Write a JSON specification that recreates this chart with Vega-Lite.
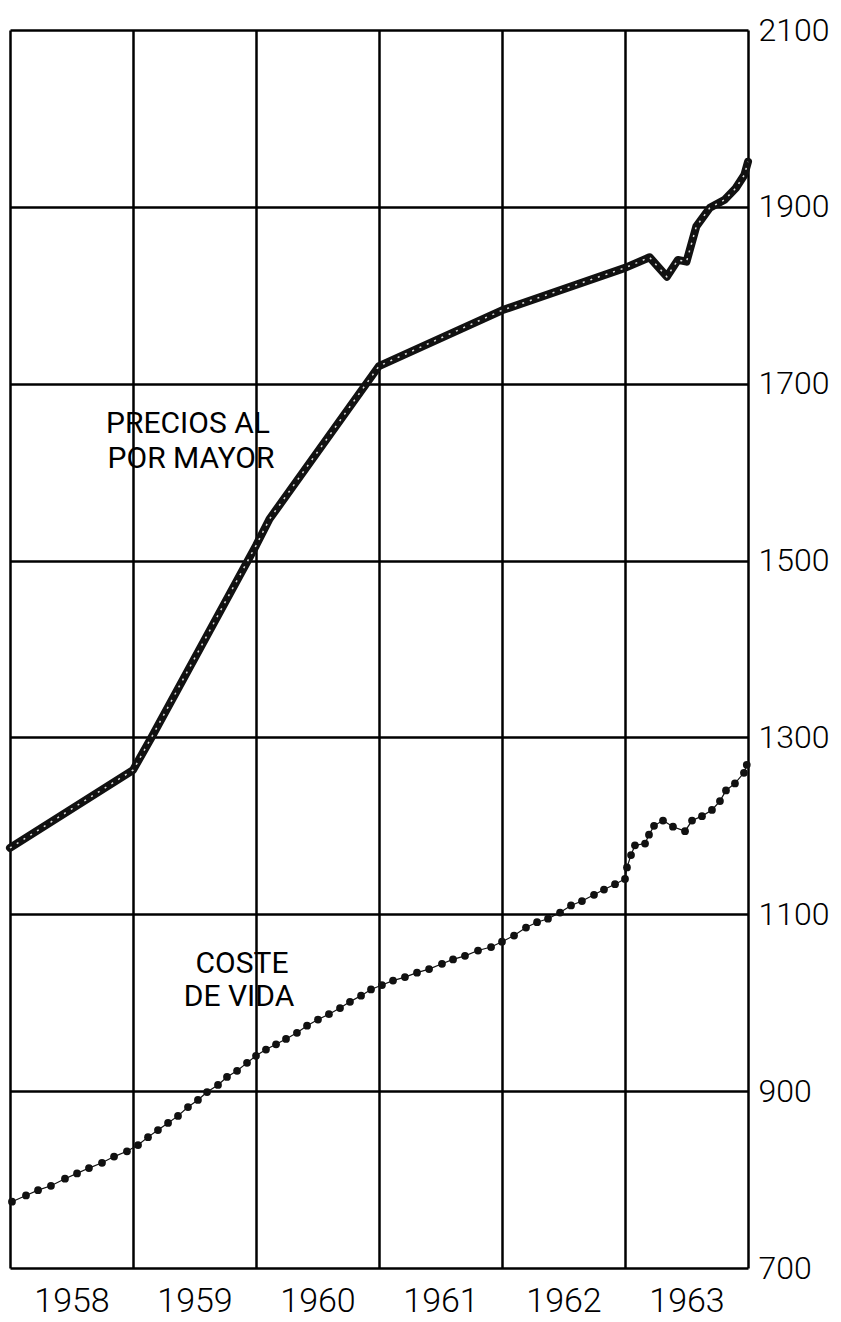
{
  "$schema": "https://vega.github.io/schema/vega-lite/v6.json",
  "width": 738,
  "height": 1238,
  "autosize": {"type": "none"},
  "padding": {"left": 10, "top": 30, "right": 93, "bottom": 54},
  "background": "white",
  "config": {
    "view": {"stroke": null},
    "font": "Roboto"
  },
  "datasets": {
    "wholesale": [
      {"t": 1958.0, "v": 1175},
      {"t": 1959.0, "v": 1263},
      {"t": 1959.15, "v": 1300},
      {"t": 1960.0, "v": 1517},
      {"t": 1960.11, "v": 1547},
      {"t": 1961.0, "v": 1720},
      {"t": 1962.0, "v": 1783},
      {"t": 1963.0, "v": 1831},
      {"t": 1963.2, "v": 1843},
      {"t": 1963.34, "v": 1821},
      {"t": 1963.43, "v": 1840},
      {"t": 1963.5, "v": 1838},
      {"t": 1963.58, "v": 1878},
      {"t": 1963.69, "v": 1899},
      {"t": 1963.81, "v": 1908},
      {"t": 1963.9, "v": 1921},
      {"t": 1963.97, "v": 1936},
      {"t": 1964.0, "v": 1951}
    ],
    "coste": [
      {"t": 1958.016, "v": 775},
      {"t": 1958.13, "v": 782},
      {"t": 1958.228, "v": 788},
      {"t": 1958.333, "v": 793},
      {"t": 1958.447, "v": 801},
      {"t": 1958.545, "v": 807},
      {"t": 1958.642, "v": 813},
      {"t": 1958.748, "v": 819},
      {"t": 1958.846, "v": 826},
      {"t": 1958.951, "v": 832},
      {"t": 1959.041, "v": 839},
      {"t": 1959.122, "v": 848},
      {"t": 1959.203, "v": 856},
      {"t": 1959.285, "v": 864},
      {"t": 1959.366, "v": 872},
      {"t": 1959.447, "v": 882},
      {"t": 1959.528, "v": 890},
      {"t": 1959.602, "v": 899},
      {"t": 1959.691, "v": 907},
      {"t": 1959.764, "v": 916},
      {"t": 1959.846, "v": 923},
      {"t": 1959.927, "v": 932},
      {"t": 1960.0, "v": 940},
      {"t": 1960.081, "v": 947},
      {"t": 1960.163, "v": 953},
      {"t": 1960.244, "v": 959},
      {"t": 1960.333, "v": 966},
      {"t": 1960.415, "v": 974},
      {"t": 1960.504, "v": 981},
      {"t": 1960.593, "v": 987},
      {"t": 1960.683, "v": 994},
      {"t": 1960.764, "v": 1001},
      {"t": 1960.854, "v": 1008},
      {"t": 1960.935, "v": 1015},
      {"t": 1961.024, "v": 1020},
      {"t": 1961.114, "v": 1025},
      {"t": 1961.211, "v": 1029},
      {"t": 1961.309, "v": 1034},
      {"t": 1961.407, "v": 1038},
      {"t": 1961.512, "v": 1044},
      {"t": 1961.602, "v": 1049},
      {"t": 1961.699, "v": 1053},
      {"t": 1961.805, "v": 1059},
      {"t": 1961.911, "v": 1063},
      {"t": 1962.0, "v": 1069},
      {"t": 1962.098, "v": 1076},
      {"t": 1962.195, "v": 1085},
      {"t": 1962.285, "v": 1091},
      {"t": 1962.374, "v": 1095},
      {"t": 1962.472, "v": 1102},
      {"t": 1962.561, "v": 1110},
      {"t": 1962.65, "v": 1115},
      {"t": 1962.748, "v": 1122},
      {"t": 1962.829, "v": 1128},
      {"t": 1962.919, "v": 1134},
      {"t": 1963.0, "v": 1140},
      {"t": 1963.016, "v": 1153},
      {"t": 1963.049, "v": 1167},
      {"t": 1963.081, "v": 1178},
      {"t": 1963.163, "v": 1180},
      {"t": 1963.195, "v": 1190},
      {"t": 1963.236, "v": 1200},
      {"t": 1963.309, "v": 1206},
      {"t": 1963.39, "v": 1199},
      {"t": 1963.488, "v": 1194},
      {"t": 1963.545, "v": 1206},
      {"t": 1963.626, "v": 1211},
      {"t": 1963.707, "v": 1218},
      {"t": 1963.772, "v": 1228},
      {"t": 1963.821, "v": 1240},
      {"t": 1963.894, "v": 1248},
      {"t": 1963.967, "v": 1260},
      {"t": 1963.99, "v": 1269}
    ],
    "labels": [
      {"t": 1959.447, "v": 1655, "text": "PRECIOS AL"},
      {"t": 1959.472, "v": 1615, "text": "POR MAYOR"},
      {"t": 1959.886, "v": 1044, "text": "COSTE"},
      {"t": 1959.862, "v": 1006, "text": "DE VIDA"}
    ]
  },
  "encoding": {
    "x": {
      "field": "t",
      "type": "quantitative",
      "scale": {"domain": [1958, 1964], "nice": false, "zero": false},
      "axis": {
        "title": null,
        "values": [1958, 1959, 1960, 1961, 1962, 1963, 1964],
        "labelExpr": "datum.value == 1964 ? '' : format(datum.value, 'd')",
        "labelOffset": 61.5,
        "labelAlign": "center",
        "labelBaseline": "top",
        "labelPadding": 16,
        "labelFlush": false,
        "labelOverlap": false,
        "labelFont": "Roboto",
        "labelFontSize": 34,
        "labelFontWeight": 300,
        "labelColor": "#000",
        "ticks": false,
        "domain": false,
        "grid": true,
        "gridColor": "#000",
        "gridWidth": 2.5,
        "gridOpacity": 1
      }
    },
    "y": {
      "field": "v",
      "type": "quantitative",
      "scale": {"domain": [700, 2100], "nice": false, "zero": false},
      "axis": {
        "title": null,
        "orient": "right",
        "values": [700, 900, 1100, 1300, 1500, 1700, 1900, 2100],
        "format": "d",
        "labelAlign": "left",
        "labelBaseline": "middle",
        "labelPadding": 10,
        "labelFlush": false,
        "labelOverlap": false,
        "labelFont": "Roboto",
        "labelFontSize": 32,
        "labelFontWeight": 300,
        "labelColor": "#000",
        "ticks": false,
        "domain": false,
        "grid": true,
        "gridColor": "#000",
        "gridWidth": 2.5,
        "gridOpacity": 1
      }
    }
  },
  "layer": [
    {
      "data": {"name": "wholesale"},
      "mark": {"type": "line", "color": "#111", "strokeWidth": 8, "strokeCap": "round", "strokeJoin": "round"}
    },
    {
      "data": {"name": "wholesale"},
      "mark": {"type": "line", "color": "#fff", "strokeWidth": 1.5, "strokeDash": [2, 6], "opacity": 0.85}
    },
    {
      "data": {"name": "coste"},
      "mark": {"type": "line", "color": "#111", "strokeWidth": 1.2}
    },
    {
      "data": {"name": "coste"},
      "mark": {"type": "point", "shape": "circle", "filled": true, "size": 60, "color": "#111", "opacity": 1}
    },
    {
      "data": {"name": "labels"},
      "mark": {"type": "text", "font": "Roboto", "fontSize": 30, "fontWeight": 400, "align": "center", "baseline": "middle", "color": "#000"},
      "encoding": {"text": {"field": "text", "type": "nominal"}}
    }
  ]
}
